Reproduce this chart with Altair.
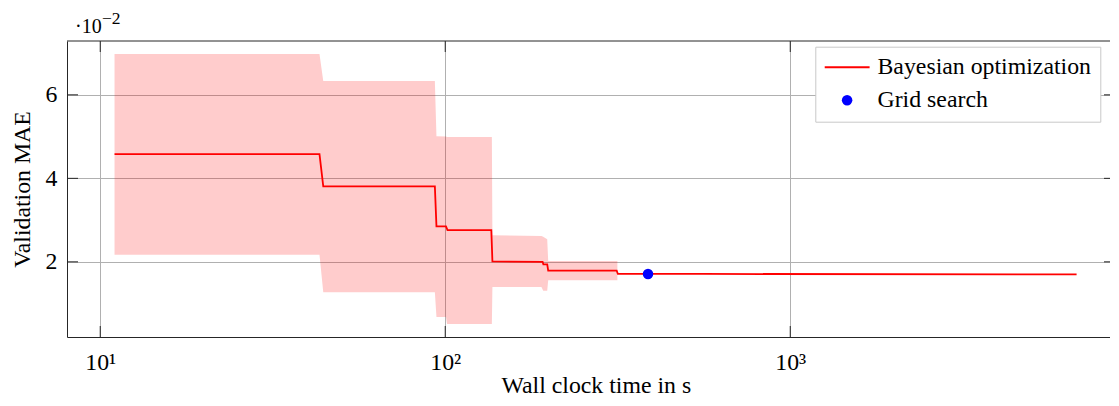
import altair as alt
import pandas as pd

FONT = "Liberation Serif"
FS = 23.8

# Bayesian optimization: best validation MAE so far (x 1e-2) vs wall clock time (s)
bo_time = [11.0, 43.2, 44.3, 93.3, 94.3, 100.5, 101.5, 136.0, 137.0, 191.5, 192.5,
           197.5, 198.8, 314.0, 316.5, 560.0, 6760.0]
bo_mae = [4.58, 4.58, 3.81, 3.81, 2.85, 2.85, 2.76, 2.76, 2.01, 2.00, 1.94,
          1.94, 1.79, 1.79, 1.71, 1.71, 1.70]

# spread band around the Bayesian optimization curve
band_time = [11.0, 43.2, 44.3, 93.3, 94.3, 100.5, 101.2, 136.5, 137.0, 190.0,
             192.3, 197.5, 198.8, 315.5]
band_hi = [6.98, 6.98, 6.33, 6.33, 5.01, 5.00, 4.99, 4.99, 2.64, 2.62,
           2.60, 2.54, 2.02, 2.02]
band_lo = [2.17, 2.17, 1.27, 1.27, 0.68, 0.68, 0.51, 0.51, 1.40, 1.40,
           1.31, 1.31, 1.56, 1.56]

# grid search result
grid_time = [387.0]
grid_mae = [1.71]

x_ticks = [10, 100, 1000]
x_tick_labels = ["10¹", "10²", "10³"]
y_ticks = [2, 4, 6]
series_names = ["Bayesian optimization", "Grid search"]
series_colors = ["#ff0000", "#0000ff"]

W, H = 1043, 296
xs = alt.Scale(type="log", domain=[8.01, 8449], nice=False)
ys = alt.Scale(domain=[0.2, 7.29], nice=False, zero=False)

bo_df = pd.DataFrame({"t": bo_time, "mae": bo_mae, "series": series_names[0]})
band_df = pd.DataFrame({"t": band_time, "hi": band_hi, "lo": band_lo})
gs_df = pd.DataFrame({"t": grid_time, "mae": grid_mae, "series": series_names[1]})
xt_df = pd.DataFrame({"t": x_ticks})
yt_df = pd.DataFrame({"v": y_ticks})
one = pd.DataFrame({"a": [0]})

label_expr = " : ".join(
    f"datum.value == {v} ? '{l}'" for v, l in zip(x_ticks, x_tick_labels)) + " : ''"

FRAME = "#262626"
common_axis = dict(grid=True, ticks=False, tickSize=0, domain=True,
                   domainColor=FRAME, domainWidth=1,
                   labelFont=FONT, labelFontSize=FS, labelColor="black",
                   titleFont=FONT, titleFontSize=FS, titleFontWeight="normal",
                   titleColor="black", gridColor="#b0b0b0", gridWidth=1,
                   labelOverlap=False)

x_axis = alt.Axis(values=x_ticks, labelExpr=label_expr, title="Wall clock time in s",
                  labelPadding=32.5, labelBaseline="alphabetic", labelFlush=False,
                  titleX=528.8, titleY=55, titleBaseline="alphabetic",
                  titleAlign="center", **common_axis)
y_axis = alt.Axis(values=y_ticks, format="d", title="Validation MAE",
                  labelPadding=10, titleAngle=270, titleX=-37.8, titleY=148,
                  titleBaseline="alphabetic", titleAlign="center", **common_axis)

X = lambda f: alt.X(f, scale=xs, axis=x_axis)
Y = lambda f: alt.Y(f, scale=ys, axis=y_axis)

sel = "datum.value === 'Grid search'"
legend = alt.Legend(
    title=None, orient="none", legendX=748.3, legendY=5.7, direction="vertical",
    columns=1, fillColor="white", strokeColor="#c8c8c8", padding=9, cornerRadius=0,
    labelFont=FONT, labelFontSize=FS, labelColor="black", labelLimit=500,
    labelOffset=18.5, symbolOffset=10.9, rowPadding=8, clipHeight=23,
    labelExpr="datum.label + '\u00a0'",
    symbolType=alt.ExprRef(expr=f"{sel} ? 'circle' : 'stroke'"),
    symbolSize=alt.ExprRef(expr=f"{sel} ? 110 : 2025"),
    symbolStrokeWidth=alt.ExprRef(expr=f"{sel} ? 0 : 2"),
    symbolOpacity=1,
)
color = alt.Color("series:N", scale=alt.Scale(domain=series_names, range=series_colors),
                  legend=legend)

band = alt.Chart(band_df).mark_area(color="#ff0000", opacity=0.2).encode(
    x=X("t:Q"), y=Y("hi:Q"), y2="lo:Q")
line = alt.Chart(bo_df).mark_line(strokeWidth=1.8).encode(
    x=X("t:Q"), y=Y("mae:Q"), color=color)
pts = alt.Chart(gs_df).mark_circle(size=110, opacity=1).encode(
    x=X("t:Q"), y=Y("mae:Q"), color=color)

tick_style = dict(color=FRAME, strokeWidth=1)
tb = alt.Chart(xt_df).mark_rule(**tick_style).encode(x=X("t:Q"), y=alt.value(H - 11), y2=alt.value(H))
tt = alt.Chart(xt_df).mark_rule(**tick_style).encode(x=X("t:Q"), y=alt.value(0), y2=alt.value(11))
tl = alt.Chart(yt_df).mark_rule(**tick_style).encode(y=Y("v:Q"), x=alt.value(0), x2=alt.value(11))
tr = alt.Chart(yt_df).mark_rule(**tick_style).encode(y=Y("v:Q"), x=alt.value(W - 6), x2=alt.value(W))
top_border = alt.Chart(one).mark_rule(**tick_style).encode(
    x=alt.value(0), x2=alt.value(W), y=alt.value(0))

exp_base = alt.Chart(one).mark_text(font=FONT, fontSize=20, align="left",
                                    baseline="alphabetic", color="black").encode(
    x=alt.value(8), y=alt.value(-8), text=alt.value("·10"))
exp_sup = alt.Chart(one).mark_text(font=FONT, fontSize=17.5, align="left",
                                   baseline="alphabetic", color="black").encode(
    x=alt.value(35), y=alt.value(-17), text=alt.value("−2"))

chart = alt.layer(band, tb, tt, tl, tr, top_border, line, pts, exp_base, exp_sup).properties(
    width=W, height=H,
    autosize=alt.AutoSizeParams(type="none"),
    padding={"left": 59, "top": 33, "right": 0, "bottom": 60},
).configure_view(stroke=None)

chart.save("out.html", embed_options={"renderer": "svg", "actions": False})
